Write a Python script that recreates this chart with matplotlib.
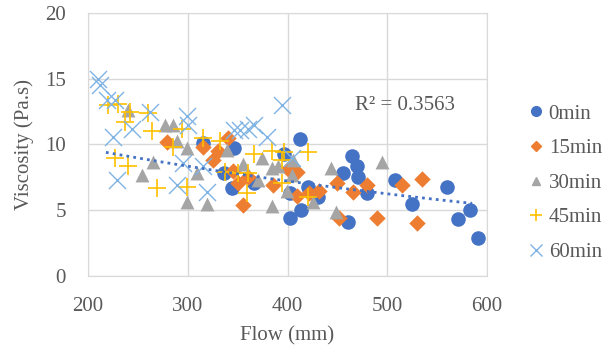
import numpy as np
import matplotlib
matplotlib.use("Agg")
import matplotlib.pyplot as plt
from matplotlib.lines import Line2D

plt.rcParams['font.family'] = ['Liberation Serif', 'DejaVu Serif']

x0 = [315, 336, 344, 346, 366, 396, 402, 402, 413, 414, 421, 431, 456, 461, 465, 470, 471, 480, 508, 525, 560, 571, 583, 591]
y0 = [10.1, 7.8, 6.7, 9.7, 7.1, 9.3, 4.4, 6.3, 10.4, 5.0, 6.8, 6.0, 7.8, 4.1, 9.1, 8.4, 7.5, 6.3, 7.3, 5.5, 6.8, 4.3, 5.0, 2.9]

x15 = [279, 315, 325, 330, 340, 345, 350, 355, 360, 385, 400, 410, 410, 422, 432, 450, 452, 466, 480, 490, 515, 530, 535]
y15 = [10.2, 9.8, 8.8, 9.5, 10.5, 8.0, 7.1, 5.4, 7.5, 6.9, 8.1, 7.9, 6.1, 6.3, 6.5, 7.1, 4.4, 6.4, 6.9, 4.4, 6.9, 4.0, 7.4]

x30 = [240, 254, 265, 277, 285, 289, 299, 299, 309, 319, 339, 355, 370, 374, 384, 384, 390, 399, 404, 405, 426, 444, 449, 495]
y30 = [12.6, 7.7, 8.7, 11.5, 11.5, 10.3, 9.7, 5.6, 7.8, 5.5, 9.6, 8.5, 7.3, 9.0, 5.3, 8.2, 8.4, 6.5, 7.7, 8.8, 5.6, 8.2, 4.9, 8.7]

x45 = [220, 230, 227, 237, 240, 242, 260, 264, 269, 285, 294, 299, 315, 332, 337, 350, 359, 360, 366, 384, 394, 394, 396, 421, 421]
y45 = [13.0, 13.1, 9.0, 11.7, 8.4, 12.5, 12.4, 11.0, 6.7, 9.8, 11.2, 6.8, 10.5, 10.3, 7.9, 7.8, 6.3, 7.8, 9.3, 9.5, 8.8, 7.1, 9.4, 9.4, 6.0]

x60 = [210, 212, 219, 227, 225, 229, 244, 262, 289, 295, 299, 300, 315, 319, 346, 352, 360, 366, 379, 394, 404]
y60 = [15.0, 14.5, 13.4, 13.4, 10.6, 7.3, 11.2, 12.5, 6.9, 8.6, 12.2, 11.5, 8.4, 6.4, 11.1, 11.1, 11.2, 11.5, 10.6, 13.0, 9.0]

labels = ['0min', '15min', '30min', '45min', '60min']

# trendline (exponential)
trend_a = 12.9
trend_b = -0.00145
trend_range = [218, 585]
r2_text = 'R² = 0.3563'

fig = plt.figure(figsize=(6.15, 3.52), dpi=100)
ax = fig.add_axes([0.143, 0.216, 0.649, 0.747])

txt = '#595959'
ax.scatter(x0, y0, s=110, marker='o', color='#4472C4', zorder=3, linewidths=0)
ax.scatter(x15, y15, s=70, marker='D', color='#ED7D31', zorder=3, linewidths=0)
ax.scatter(x30, y30, s=100, marker='^', color='#A5A5A5', zorder=3, linewidths=0)
ax.scatter(x45, y45, s=170, marker='+', color='#FFC000', zorder=3, linewidths=1.2)
ax.scatter(x60, y60, s=150, marker='x', color='#7FB3E3', zorder=3, linewidths=1.0)

tx = np.linspace(trend_range[0], trend_range[1], 100)
ax.plot(tx, trend_a * np.exp(trend_b * tx), linestyle=(0, (1, 1.5)), color='#4472C4', lw=2.0, zorder=4)

ax.text(468, 13.0, r2_text, fontsize=15, color=txt, va='center', ha='left')

ax.set_xlim(200, 600)
ax.set_ylim(0, 20)
ax.set_xticks([200, 300, 400, 500, 600])
ax.set_yticks([0, 5, 10, 15, 20])
ax.grid(True, color='#D9D9D9', lw=1)
ax.set_axisbelow(True)
for s in ax.spines.values():
    s.set_color('#D9D9D9')
ax.tick_params(axis='x', length=0, labelsize=15, colors=txt, pad=15)
ax.tick_params(axis='y', length=0, labelsize=15, colors=txt, pad=16)
ax.set_xlabel('Flow (mm)', fontsize=15, color=txt)
ax.set_ylabel('Viscosity (Pa.s)', fontsize=15, color=txt)
ax.xaxis.set_label_coords(0.5, -0.19)
ax.yaxis.set_label_coords(-0.135, 0.5)

handles = [
    Line2D([], [], marker='o', ls='', color='#4472C4', ms=7),
    Line2D([], [], marker='D', ls='', color='#ED7D31', ms=5),
    Line2D([], [], marker='^', ls='', color='#A5A5A5', ms=6),
    Line2D([], [], marker='+', ls='', color='#FFC000', ms=9, mew=1.2),
    Line2D([], [], marker='x', ls='', color='#7FB3E3', ms=9, mew=1.0),
]
leg = fig.legend(handles, labels, loc='center left', bbox_to_anchor=(0.838, 0.48),
                 frameon=False, fontsize=15, labelcolor=txt, handletextpad=0.0,
                 handlelength=1.2, labelspacing=0.72, borderaxespad=0)

fig.savefig('out.png', dpi=100)
